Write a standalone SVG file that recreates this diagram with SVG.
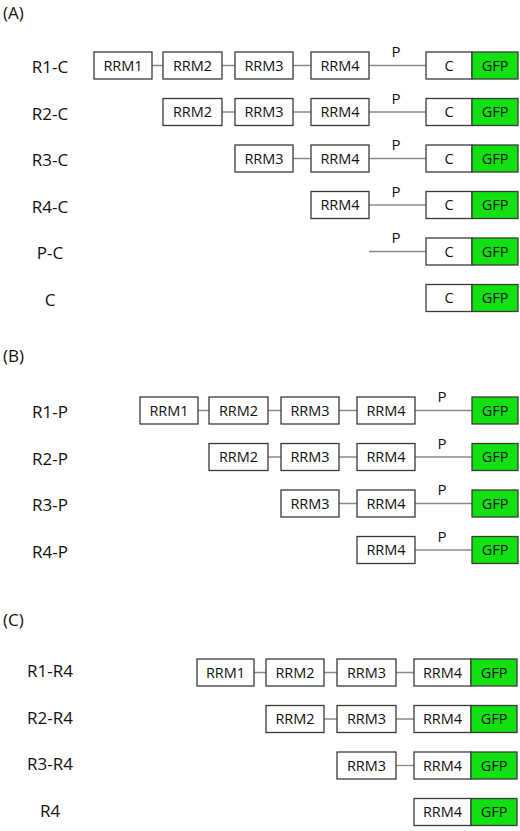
<svg xmlns="http://www.w3.org/2000/svg" width="520" height="831" viewBox="0 0 520 831">
<style>
text{font-family:"Open Sans","Liberation Sans",sans-serif;fill:#111}
.b{fill:#fff;stroke:#3a3a3a;stroke-width:1.3}
.g{fill:#11e011;stroke:#3a3a3a;stroke-width:1.3}
.t{font-size:14.5px;text-anchor:middle}
.lbl{font-size:17px;text-anchor:middle}
.sec{font-size:17px}
.p{font-size:15px;text-anchor:middle}
.ln{stroke:#8a8a8a;stroke-width:1.3;fill:none}
</style>
<rect width="520" height="831" fill="#fff"/>
<text class="sec" x="3" y="19">(A)</text>
<text class="sec" x="3" y="362">(B)</text>
<text class="sec" x="3" y="626">(C)</text>

<g id="connectors">
<path class="ln" d="M152 65.5H163M222 65.5H235M293 65.5H311M369 65.5H426"/>
<path class="ln" d="M222 112H235M293 112H311M369 112H426"/>
<path class="ln" d="M293 158.5H311M369 158.5H426"/>
<path class="ln" d="M369 205H426"/>
<path class="ln" d="M369 251.5H426"/>
<path class="ln" d="M198 410.5H209M268 410.5H281M339 410.5H357M415 410.5H472"/>
<path class="ln" d="M268 457H281M339 457H357M415 457H472"/>
<path class="ln" d="M339 503.5H357M415 503.5H472"/>
<path class="ln" d="M415 550H472"/>
<path class="ln" d="M254 672.5H266M324 672.5H337M396 672.5H414"/>
<path class="ln" d="M324 719H337M396 719H414"/>
<path class="ln" d="M396 765.5H414"/>
</g>

<g id="R1-C">
<text class="lbl" x="50" y="73">R1-C</text>
<rect class="b" x="94" y="52" width="58" height="27"/><text class="t" x="123" y="70.5">RRM1</text>
<rect class="b" x="163" y="52" width="59" height="27"/><text class="t" x="192.5" y="70.5">RRM2</text>
<rect class="b" x="235" y="52" width="58" height="27"/><text class="t" x="264" y="70.5">RRM3</text>
<rect class="b" x="311" y="52" width="58" height="27"/><text class="t" x="340" y="70.5">RRM4</text>
<text class="p" x="396" y="57">P</text>
<rect class="b" x="426" y="52" width="46" height="27"/><text class="t" x="449" y="70.5">C</text>
<rect class="g" x="472" y="52" width="46" height="27"/><text class="t" x="495" y="70.5">GFP</text>
</g>
<g id="R2-C">
<text class="lbl" x="50" y="119.5">R2-C</text>
<rect class="b" x="163" y="98.5" width="59" height="27"/><text class="t" x="192.5" y="117">RRM2</text>
<rect class="b" x="235" y="98.5" width="58" height="27"/><text class="t" x="264" y="117">RRM3</text>
<rect class="b" x="311" y="98.5" width="58" height="27"/><text class="t" x="340" y="117">RRM4</text>
<text class="p" x="396" y="103.5">P</text>
<rect class="b" x="426" y="98.5" width="46" height="27"/><text class="t" x="449" y="117">C</text>
<rect class="g" x="472" y="98.5" width="46" height="27"/><text class="t" x="495" y="117">GFP</text>
</g>
<g id="R3-C">
<text class="lbl" x="50" y="166">R3-C</text>
<rect class="b" x="235" y="145" width="58" height="27"/><text class="t" x="264" y="163.5">RRM3</text>
<rect class="b" x="311" y="145" width="58" height="27"/><text class="t" x="340" y="163.5">RRM4</text>
<text class="p" x="396" y="150">P</text>
<rect class="b" x="426" y="145" width="46" height="27"/><text class="t" x="449" y="163.5">C</text>
<rect class="g" x="472" y="145" width="46" height="27"/><text class="t" x="495" y="163.5">GFP</text>
</g>
<g id="R4-C">
<text class="lbl" x="50" y="212.5">R4-C</text>
<rect class="b" x="311" y="191.5" width="58" height="27"/><text class="t" x="340" y="210">RRM4</text>
<text class="p" x="396" y="196.5">P</text>
<rect class="b" x="426" y="191.5" width="46" height="27"/><text class="t" x="449" y="210">C</text>
<rect class="g" x="472" y="191.5" width="46" height="27"/><text class="t" x="495" y="210">GFP</text>
</g>
<g id="P-C">
<text class="lbl" x="50" y="259">P-C</text>
<text class="p" x="396" y="243">P</text>
<rect class="b" x="426" y="238" width="46" height="27"/><text class="t" x="449" y="256.5">C</text>
<rect class="g" x="472" y="238" width="46" height="27"/><text class="t" x="495" y="256.5">GFP</text>
</g>
<g id="C">
<text class="lbl" x="50" y="305.5">C</text>
<rect class="b" x="426" y="284.5" width="46" height="27"/><text class="t" x="449" y="303">C</text>
<rect class="g" x="472" y="284.5" width="46" height="27"/><text class="t" x="495" y="303">GFP</text>
</g>

<g id="R1-P">
<text class="lbl" x="50" y="418">R1-P</text>
<rect class="b" x="140" y="397" width="58" height="27"/><text class="t" x="169" y="415.5">RRM1</text>
<rect class="b" x="209" y="397" width="59" height="27"/><text class="t" x="238.5" y="415.5">RRM2</text>
<rect class="b" x="281" y="397" width="58" height="27"/><text class="t" x="310" y="415.5">RRM3</text>
<rect class="b" x="357" y="397" width="58" height="27"/><text class="t" x="386" y="415.5">RRM4</text>
<text class="p" x="442" y="402">P</text>
<rect class="g" x="472" y="397" width="46" height="27"/><text class="t" x="495" y="415.5">GFP</text>
</g>
<g id="R2-P">
<text class="lbl" x="50" y="464.5">R2-P</text>
<rect class="b" x="209" y="443.5" width="59" height="27"/><text class="t" x="238.5" y="462">RRM2</text>
<rect class="b" x="281" y="443.5" width="58" height="27"/><text class="t" x="310" y="462">RRM3</text>
<rect class="b" x="357" y="443.5" width="58" height="27"/><text class="t" x="386" y="462">RRM4</text>
<text class="p" x="442" y="448.5">P</text>
<rect class="g" x="472" y="443.5" width="46" height="27"/><text class="t" x="495" y="462">GFP</text>
</g>
<g id="R3-P">
<text class="lbl" x="50" y="511">R3-P</text>
<rect class="b" x="281" y="490" width="58" height="27"/><text class="t" x="310" y="508.5">RRM3</text>
<rect class="b" x="357" y="490" width="58" height="27"/><text class="t" x="386" y="508.5">RRM4</text>
<text class="p" x="442" y="495">P</text>
<rect class="g" x="472" y="490" width="46" height="27"/><text class="t" x="495" y="508.5">GFP</text>
</g>
<g id="R4-P">
<text class="lbl" x="50" y="557.5">R4-P</text>
<rect class="b" x="357" y="536.5" width="58" height="27"/><text class="t" x="386" y="555">RRM4</text>
<text class="p" x="442" y="541.5">P</text>
<rect class="g" x="472" y="536.5" width="46" height="27"/><text class="t" x="495" y="555">GFP</text>
</g>

<g id="R1-R4">
<text class="lbl" x="50" y="677">R1-R4</text>
<rect class="b" x="197" y="659" width="57" height="27"/><text class="t" x="225.5" y="677.5">RRM1</text>
<rect class="b" x="266" y="659" width="58" height="27"/><text class="t" x="295" y="677.5">RRM2</text>
<rect class="b" x="337" y="659" width="59" height="27"/><text class="t" x="366.5" y="677.5">RRM3</text>
<rect class="b" x="414" y="659" width="57" height="27"/><text class="t" x="442.5" y="677.5">RRM4</text>
<rect class="g" x="471" y="659" width="46" height="27"/><text class="t" x="494" y="677.5">GFP</text>
</g>
<g id="R2-R4">
<text class="lbl" x="50" y="723.5">R2-R4</text>
<rect class="b" x="266" y="705.5" width="58" height="27"/><text class="t" x="295" y="724">RRM2</text>
<rect class="b" x="337" y="705.5" width="59" height="27"/><text class="t" x="366.5" y="724">RRM3</text>
<rect class="b" x="414" y="705.5" width="57" height="27"/><text class="t" x="442.5" y="724">RRM4</text>
<rect class="g" x="471" y="705.5" width="46" height="27"/><text class="t" x="494" y="724">GFP</text>
</g>
<g id="R3-R4">
<text class="lbl" x="50" y="770">R3-R4</text>
<rect class="b" x="337" y="752" width="59" height="27"/><text class="t" x="366.5" y="770.5">RRM3</text>
<rect class="b" x="414" y="752" width="57" height="27"/><text class="t" x="442.5" y="770.5">RRM4</text>
<rect class="g" x="471" y="752" width="46" height="27"/><text class="t" x="494" y="770.5">GFP</text>
</g>
<g id="R4">
<text class="lbl" x="50" y="816.5">R4</text>
<rect class="b" x="414" y="798.5" width="57" height="27"/><text class="t" x="442.5" y="817">RRM4</text>
<rect class="g" x="471" y="798.5" width="46" height="27"/><text class="t" x="494" y="817">GFP</text>
</g>
</svg>
